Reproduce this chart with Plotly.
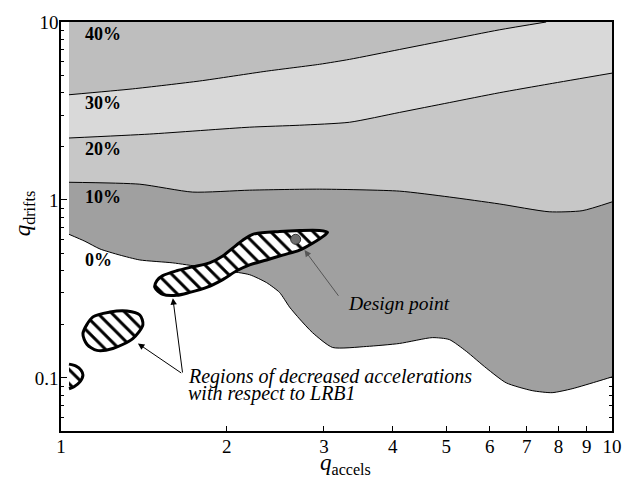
import numpy as np
import plotly.graph_objects as go

# ---------------- data ----------------
# contour boundary 0 % (lower edge of the grey area)
b0_x = [1.034, 1.105, 1.177, 1.279, 1.390, 1.596, 1.786, 1.999, 2.200, 2.361, 2.493, 2.599, 2.710,
        2.861, 3.110, 3.584, 4.113, 4.719, 5.067, 5.440, 5.912, 6.427, 7.164, 7.787, 8.464, 9.472, 10.0]
b0_y = [0.641, 0.586, 0.530, 0.490, 0.460, 0.443, 0.421, 0.400, 0.380, 0.343, 0.302, 0.250, 0.2145,
        0.1795, 0.1483, 0.1502, 0.1561, 0.1684, 0.1642, 0.1410, 0.1136, 0.0938, 0.0848, 0.0826, 0.0869, 0.0962, 0.1013]
# contour boundary 10 % / 20 %
b10_x = [1.034, 1.390, 1.734, 2.200, 2.946, 4.113, 5.067, 6.242, 7.691, 8.826, 10.0]
b10_y = [1.257, 1.226, 1.107, 1.135, 1.150, 1.121, 1.039, 0.950, 0.858, 0.870, 0.975]
# contour boundary 20 % / 30 %
b20_x = [1.034, 1.449, 2.200, 2.710, 3.339, 4.113, 5.067, 6.242, 7.691, 10.0]
b20_y = [2.229, 2.346, 2.564, 2.630, 2.733, 3.102, 3.524, 4.002, 4.487, 5.161]
# contour boundary 30 % / 40 %
b30_x = [1.034, 1.350, 1.786, 2.361, 2.946, 3.339, 4.113, 5.067, 6.242, 7.595]
b30_y = [3.901, 4.210, 4.662, 5.294, 5.786, 6.166, 7.004, 7.955, 9.033, 10.0]

band_labels = ["0%", "10%", "20%", "30%", "40%"]
band_colors = ["#a0a0a0", "#c7c7c7", "#d9d9d9", "#bebebe"]

# regions of decreased accelerations (hatched)
reg1_x = [1.480, 1.530, 1.622, 1.713, 1.838, 1.966, 2.084, 2.200, 2.361, 2.525, 2.710, 2.861, 3.008, 3.046,
          2.946, 2.710, 2.493, 2.228, 2.137, 2.049, 1.966, 1.861, 1.734, 1.622, 1.530, 1.493, 1.480]
reg1_y = [0.3223, 0.2948, 0.2911, 0.3023, 0.3223, 0.3569, 0.400, 0.4317, 0.460, 0.490, 0.5225, 0.5714, 0.6326, 0.657,
          0.674, 0.674, 0.6655, 0.641, 0.5935, 0.5362, 0.4842, 0.443, 0.421, 0.400, 0.3754, 0.3524, 0.3223]
reg2_x = [1.096, 1.143, 1.227, 1.317, 1.390, 1.408, 1.350, 1.242, 1.162, 1.115, 1.096]
reg2_y = [0.1772, 0.2201, 0.2345, 0.2375, 0.2257, 0.1987, 0.1663, 0.1464, 0.1428, 0.1541, 0.1772]
reg3_x = [1.034, 1.065, 1.087, 1.096, 1.082, 1.056, 1.034]
reg3_y = [0.1195, 0.1165, 0.1107, 0.1039, 0.0950, 0.0892, 0.0869]

design_x = [2.666]
design_y = [0.601]

x_ticks = [1, 2, 3, 4, 5, 6, 7, 8, 9, 10]
x_ticklabels = ["1", "2", "3", "4", "5", "6", "7", "8", "9", "10"]
y_ticks = [0.1, 1, 10]
y_ticklabels = ["0.1", "1", "10"]
y_minor = [0.06, 0.07, 0.08, 0.09, 0.2, 0.3, 0.4, 0.5, 0.6, 0.7, 0.8, 0.9,
           2, 3, 4, 5, 6, 7, 8, 9]

X_LEFT = b0_x[0]
TOP = 30.0
SERIF = "Liberation Serif, Times New Roman, Times, DejaVu Serif, serif"
SPL = dict(shape="spline", smoothing=0.6)

fig = go.Figure()

# ---------------- filled bands: each boundary filled up to the top ----------------
for (bx, by), col in zip([(b0_x, b0_y), (b10_x, b10_y), (b20_x, b20_y), (b30_x, b30_y)], band_colors):
    fig.add_trace(go.Scatter(x=[X_LEFT, bx[-1]], y=[TOP, TOP], mode="lines",
                             line=dict(width=0), hoverinfo="skip"))
    fig.add_trace(go.Scatter(x=bx, y=by, mode="lines", fill="tonexty", fillcolor=col,
                             line=dict(color="black", width=1, **SPL), hoverinfo="skip"))

# hatched regions
hatch = dict(shape="\\", bgcolor="white", fgcolor="black", fgopacity=1, size=10, solidity=0.3)
for rx, ry in [(reg1_x, reg1_y), (reg2_x, reg2_y)]:
    fig.add_trace(go.Scatter(x=rx, y=ry, mode="lines", fill="toself", fillcolor="white",
                             fillpattern=hatch,
                             line=dict(color="black", width=3, shape="spline", smoothing=0.8),
                             hoverinfo="skip"))
fig.add_trace(go.Scatter(x=reg3_x, y=reg3_y, mode="lines", fill="toself", fillcolor="white",
                         fillpattern=hatch, line=dict(width=0), hoverinfo="skip"))
fig.add_trace(go.Scatter(x=reg3_x, y=reg3_y, mode="lines",
                         line=dict(color="black", width=3, shape="spline", smoothing=0.8),
                         hoverinfo="skip"))

# design point
fig.add_trace(go.Scatter(x=design_x, y=design_y, mode="markers",
                         marker=dict(size=10, color="#6e6e6e", line=dict(color="#333333", width=1)),
                         hoverinfo="skip"))

# ---------------- annotations ----------------
ann = []
lab_y = [0.417, 0.5733, 0.690, 0.8017, 0.970]
for t, yy in zip(band_labels, lab_y):
    ann.append(dict(text="<b>" + t + "</b>", xref="paper", yref="paper", x=0.0399, y=yy,
                    xanchor="left", yanchor="middle", showarrow=False,
                    font=dict(family=SERIF, size=18, color="black")))


def arrow(hx, hy, tx, ty, color):
    return dict(x=np.log10(hx), y=np.log10(hy), ax=np.log10(tx), ay=np.log10(ty),
                xref="x", yref="y", axref="x", ayref="y", text="", showarrow=True,
                arrowhead=2, arrowsize=1.3, arrowwidth=1, arrowcolor=color, standoff=0)


ann.append(arrow(2.767, 0.5225, 3.203, 0.2838, "#555555"))
ann.append(arrow(1.379, 0.1561, 1.663, 0.1052, "black"))
ann.append(arrow(1.596, 0.2803, 1.663, 0.1052, "black"))

ann.append(dict(text="<i>Design point</i>", xref="paper", yref="paper", x=0.518, y=0.3125,
                xanchor="left", yanchor="middle", showarrow=False,
                font=dict(family=SERIF, size=19.5, color="black")))
ann.append(dict(text="<i>Regions of decreased accelerations</i>", xref="paper", yref="paper",
                x=0.2265, y=0.133, xanchor="left", yanchor="middle", showarrow=False,
                font=dict(family=SERIF, size=20, color="black")))
ann.append(dict(text="<i>with respect to LRB1</i>", xref="paper", yref="paper",
                x=0.2265, y=0.0913, xanchor="left", yanchor="middle", showarrow=False,
                font=dict(family=SERIF, size=20, color="black")))

# axis titles
ann.append(dict(text="<i>q</i><sub>accels</sub>", xref="paper", yref="paper", x=0.516, y=-0.080,
                xanchor="center", yanchor="middle", showarrow=False,
                font=dict(family=SERIF, size=23, color="black")))
ann.append(dict(text="<i>q</i><sub>drifts</sub>", xref="paper", yref="paper", x=-0.067, y=0.530,
                xanchor="center", yanchor="middle", showarrow=False, textangle=-90,
                font=dict(family=SERIF, size=23, color="black")))

fig.update_layout(width=634, height=483, margin=dict(l=61, r=21, t=15, b=52),
                  plot_bgcolor="white", paper_bgcolor="white", showlegend=False,
                  font=dict(family=SERIF, size=19, color="black"), annotations=ann)

fig.update_xaxes(type="log", range=[0, 1], tickmode="array", tickvals=x_ticks, ticktext=x_ticklabels,
                 ticks="inside", ticklen=5, tickwidth=1, tickcolor="black",
                 showline=True, linecolor="black", linewidth=1.5, mirror="allticks",
                 showgrid=False, zeroline=False, layer="below traces", ticklabelstandoff=-3,
                 tickfont=dict(family=SERIF, size=19))
fig.update_yaxes(type="log", range=[np.log10(0.0503), 1], tickmode="array", tickvals=y_ticks,
                 ticktext=y_ticklabels, ticks="inside", ticklen=6, tickwidth=1, tickcolor="black",
                 minor=dict(tickmode="array", tickvals=y_minor, ticks="inside", ticklen=3,
                            tickcolor="black", showgrid=False),
                 showline=True, linecolor="black", linewidth=1.5, mirror="allticks",
                 showgrid=False, zeroline=False, layer="below traces", ticklabelstandoff=-3,
                 tickfont=dict(family=SERIF, size=19))

fig.write_html("out.html")
